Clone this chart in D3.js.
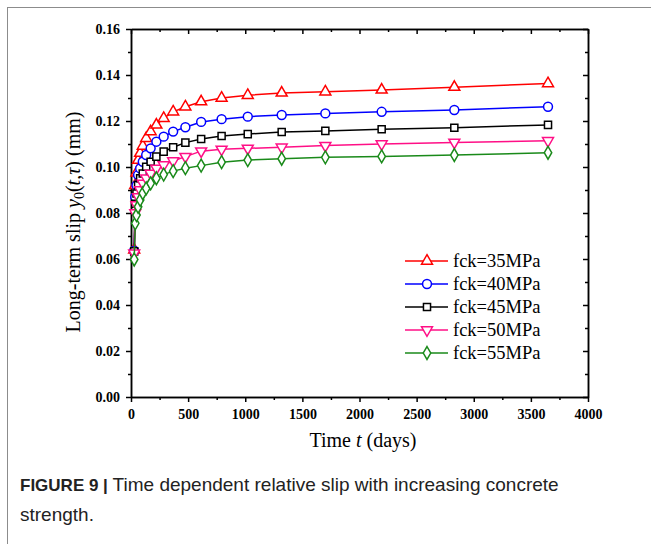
<!DOCTYPE html>
<html lang="en">
<head>
    <meta charset="UTF-8">
    <title>Figure 9</title>
    <script src="https://cdn.jsdelivr.net/npm/d3@7/dist/d3.min.js"></script>
    <style>
        body { margin: 0; background: #fff; }
        .axis path, .axis line { stroke: #000; stroke-width: 1.5; }
        .axis text { font-family: "Liberation Serif", serif; font-weight: bold; font-size: 14px; fill: #000; }
    </style>
</head>
<body>
    <div id="chart">
        <script>
            // time points (days)
            const days = [28, 37, 48, 62, 80, 103, 133, 172, 222, 286, 369, 476, 614, 793, 1022, 1319, 1701, 2194, 2830, 3650];

            const fck35 = [0.0640, 0.0920, 0.0975, 0.1030, 0.1060, 0.1091, 0.1125, 0.1154, 0.1183, 0.1212, 0.1240, 0.1262, 0.1284, 0.1300, 0.1312, 0.1322, 0.1327, 0.1335, 0.1347, 0.1363];
            const fck40 = [0.0636, 0.0870, 0.0920, 0.0965, 0.0994, 0.1023, 0.1052, 0.1081, 0.1110, 0.1132, 0.1154, 0.1173, 0.1196, 0.1208, 0.1219, 0.1226, 0.1233, 0.1240, 0.1248, 0.1262];
            const fck45 = [0.0633, 0.0840, 0.0885, 0.0922, 0.0951, 0.0972, 0.1001, 0.1023, 0.1045, 0.1067, 0.1086, 0.1106, 0.1122, 0.1135, 0.1143, 0.1152, 0.1157, 0.1164, 0.1171, 0.1183];
            const fck50 = [0.0625, 0.0800, 0.0835, 0.0870, 0.0900, 0.0929, 0.0951, 0.0972, 0.0994, 0.1009, 0.1026, 0.1045, 0.1069, 0.1077, 0.1081, 0.1086, 0.1093, 0.1100, 0.1107, 0.1114];
            const fck55 = [0.0598, 0.0755, 0.0791, 0.0827, 0.0857, 0.0886, 0.0907, 0.0929, 0.0951, 0.0967, 0.0982, 0.0995, 0.1006, 0.1021, 0.1030, 0.1036, 0.1042, 0.1046, 0.1052, 0.1062];

            const seriesNames = ['fck=35MPa', 'fck=40MPa', 'fck=45MPa', 'fck=50MPa', 'fck=55MPa'];
            const seriesValues = [fck35, fck40, fck45, fck50, fck55];
            const seriesColors = ['#ff0000', '#0000ff', '#000000', '#ff0f86', '#1a8a1a'];
            const seriesSymbols = ['triangle', 'circle', 'square', 'triangleDown', 'diamond'];

            const xTicks = [0, 500, 1000, 1500, 2000, 2500, 3000, 3500, 4000];
            const yTicks = [0.00, 0.02, 0.04, 0.06, 0.08, 0.10, 0.12, 0.14, 0.16];

            const width = 651, height = 544;
            const padding = {left: 131, right: 63, top: 29, bottom: 147};

            const svg = d3.select('#chart')
                        .append('svg')
                        .attr('width', width)
                        .attr('height', height);

            // card border
            svg.append('rect')
                .attr('x', 7.5).attr('y', 7.5)
                .attr('width', 700).attr('height', 700)
                .attr('fill', 'none')
                .attr('stroke', '#8c8c8c')
                .attr('stroke-width', 1);

            const xScale = d3.scaleLinear()
                        .domain([0, 4000])
                        .range([padding.left, width - padding.right]);
            const yScale = d3.scaleLinear()
                        .domain([0, 0.16])
                        .range([height - padding.bottom, padding.top]);

            const x0 = padding.left, x1 = width - padding.right;
            const y0 = height - padding.bottom, y1 = padding.top;

            const xMinor = d3.range(0, 4001, 250).filter(d => d % 500 !== 0);
            const yMinor = [0.01, 0.03, 0.05, 0.07, 0.09, 0.11, 0.13, 0.15];

            // bottom axis (ticks out)
            svg.append('g').attr('class', 'axis')
                .attr('transform', 'translate(0,' + y0 + ')')
                .call(d3.axisBottom(xScale).tickValues(xTicks).tickSize(5).tickSizeOuter(0).tickFormat(d3.format('d')))
                .call(g => g.selectAll('text').attr('dy', '1.0em'));
            svg.append('g').attr('class', 'axis')
                .attr('transform', 'translate(0,' + y0 + ')')
                .call(d3.axisBottom(xScale).tickValues(xMinor).tickSize(3).tickSizeOuter(0).tickFormat(''));
            // top axis (ticks in)
            svg.append('g').attr('class', 'axis')
                .attr('transform', 'translate(0,' + y1 + ')')
                .call(d3.axisTop(xScale).tickValues(xTicks).tickSize(-5).tickSizeOuter(0).tickFormat(''));
            svg.append('g').attr('class', 'axis')
                .attr('transform', 'translate(0,' + y1 + ')')
                .call(d3.axisTop(xScale).tickValues(xMinor).tickSize(-3).tickSizeOuter(0).tickFormat(''));
            // left axis (ticks out)
            svg.append('g').attr('class', 'axis')
                .attr('transform', 'translate(' + x0 + ',0)')
                .call(d3.axisLeft(yScale).tickValues(yTicks).tickSize(5).tickSizeOuter(0).tickFormat(d3.format('.2f')))
                .call(g => g.selectAll('text').attr('x', -11));
            svg.append('g').attr('class', 'axis')
                .attr('transform', 'translate(' + x0 + ',0)')
                .call(d3.axisLeft(yScale).tickValues(yMinor).tickSize(3).tickSizeOuter(0).tickFormat(''));
            // right axis (ticks in)
            svg.append('g').attr('class', 'axis')
                .attr('transform', 'translate(' + x1 + ',0)')
                .call(d3.axisRight(yScale).tickValues(yTicks).tickSize(-5).tickSizeOuter(0).tickFormat(''));
            svg.append('g').attr('class', 'axis')
                .attr('transform', 'translate(' + x1 + ',0)')
                .call(d3.axisRight(yScale).tickValues(yMinor).tickSize(-3).tickSizeOuter(0).tickFormat(''));

            function symbolPath(name, size) {
                if (name === 'triangle' || name === 'triangleDown') return d3.symbol(d3.symbolTriangle, size)();
                if (name === 'circle') return d3.symbol(d3.symbolCircle, size)();
                if (name === 'square') return d3.symbol(d3.symbolSquare, size)();
                return d3.symbol(d3.symbolDiamond, size)();
            }
            const symbolSize = {triangle: 52, circle: 62, square: 50, triangleDown: 52, diamond: 48};

            function drawMarker(g, name, color, cx, cy) {
                g.append('path')
                    .attr('d', symbolPath(name, symbolSize[name]))
                    .attr('transform', 'translate(' + cx + ',' + cy + ')' + (name === 'triangleDown' ? ' rotate(180)' : ''))
                    .attr('fill', '#fff')
                    .attr('stroke', color)
                    .attr('stroke-width', 1.5);
            }

            const line = d3.line()
                        .x(d => xScale(d[0]))
                        .y(d => yScale(d[1]));

            seriesValues.forEach(function(vals, k) {
                const pts = days.map((t, i) => [t, vals[i]]);
                const g = svg.append('g');
                g.append('path')
                    .attr('d', line(pts))
                    .attr('fill', 'none')
                    .attr('stroke', seriesColors[k])
                    .attr('stroke-width', 1.5);
                pts.forEach(p => drawMarker(g, seriesSymbols[k], seriesColors[k], xScale(p[0]), yScale(p[1])));
            });

            // legend
            const legend = svg.append('g');
            seriesNames.forEach(function(name, k) {
                const ly = 261 + k * 23;
                legend.append('line')
                    .attr('x1', 405).attr('x2', 448)
                    .attr('y1', ly).attr('y2', ly)
                    .attr('stroke', seriesColors[k])
                    .attr('stroke-width', 1.5);
                drawMarker(legend, seriesSymbols[k], seriesColors[k], 427, ly);
                legend.append('text')
                    .text(name)
                    .attr('x', 453)
                    .attr('y', ly + 6)
                    .style('font-family', '"Liberation Serif", serif')
                    .style('font-size', '18.5px');
            });

            // axis titles
            const xt = svg.append('text')
                .attr('x', 363)
                .attr('y', 447)
                .attr('text-anchor', 'middle')
                .style('font-family', '"Liberation Serif", serif')
                .style('font-size', '20px');
            xt.append('tspan').text('Time ');
            xt.append('tspan').text('t').style('font-style', 'italic');
            xt.append('tspan').text(' (days)');

            const yt = svg.append('text')
                .attr('transform', 'translate(80,222) rotate(-90)')
                .attr('text-anchor', 'middle')
                .style('font-family', '"Liberation Serif", serif')
                .style('font-size', '20px');
            yt.append('tspan').text('Long-term slip ');
            yt.append('tspan').text('y').style('font-style', 'italic');
            yt.append('tspan').text('0').attr('dy', 4).style('font-size', '14px');
            yt.append('tspan').text('(').attr('dy', -4);
            yt.append('tspan').text('t').style('font-style', 'italic');
            yt.append('tspan').text(',');
            yt.append('tspan').text('τ').style('font-style', 'italic');
            yt.append('tspan').text(') (mm)');

            // caption
            const cap = svg.append('g')
                .style('font-family', '"Liberation Sans", sans-serif')
                .style('fill', '#222');
            const c1 = cap.append('text').attr('x', 20).attr('y', 491);
            c1.append('tspan').text('FIGURE 9 | ').style('font-weight', 'bold').style('font-size', '17px');
            c1.append('tspan').text('Time dependent relative slip with increasing concrete').style('font-size', '19px');
            cap.append('text').attr('x', 20).attr('y', 521).style('font-size', '19px').text('strength.');
        </script>
    </div>
</body>
</html>
